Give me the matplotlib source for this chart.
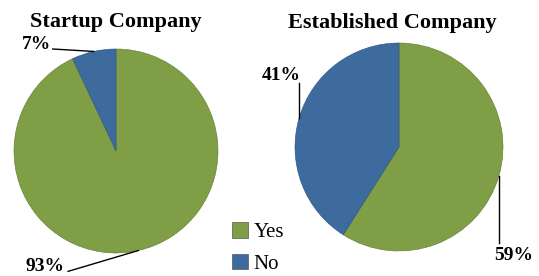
import matplotlib
matplotlib.use("Agg")
import matplotlib.pyplot as plt
import numpy as np
from matplotlib.patches import Patch

# 데이터
categories = ["Yes", "No"]
startup_values = [93, 7]
established_values = [59, 41]
titles = ["Startup Company", "Established Company"]

green = "#7F9E45"
blue = "#3D6B9E"
colors = [green, blue]

plt.rcParams["font.family"] = ["Liberation Serif", "DejaVu Serif"]

fig = plt.figure(figsize = (5.39, 2.76), dpi = 100)

# 각 파이 위치 (figure 비율)
ax1 = fig.add_axes([14 / 539, 23 / 276, 204 / 539, 204 / 276])
ax2 = fig.add_axes([295 / 539, 25 / 276, 208 / 539, 208 / 276])

def draw_pie(ax, values) :
    wedges, _ = ax.pie(values, colors = colors, startangle = 90, counterclock = False,
                       wedgeprops = dict(edgecolor = "#5a7a30", linewidth = 0.4))
    wedges[1].set_edgecolor("#2c5080")
    ax.set_xlim(-1, 1)
    ax.set_ylim(-1, 1)
    ax.set_aspect("equal")
    ax.axis("off")
    return wedges

def edge_point(w) :
    ang = np.deg2rad((w.theta1 + w.theta2) / 2)
    return np.cos(ang), np.sin(ang)

w1 = draw_pie(ax1, startup_values)
w2 = draw_pie(ax2, established_values)

fig.text(116 / 539, 1 - 27 / 276, titles[0], ha = "center", va = "baseline", fontsize = 16, fontweight = "bold")
fig.text(392 / 539, 1 - 28 / 276, titles[1], ha = "center", va = "baseline", fontsize = 16, fontweight = "bold")

lab = dict(fontsize = 14, fontweight = "bold", clip_on = False)

# Startup 라벨
ex, ey = edge_point(w1[1])
ax1.text(-0.64, 1.0, f"{startup_values[1]}%", ha = "right", va = "baseline", **lab)
ax1.plot([-0.62, ex], [1.0, ey], color = "black", lw = 1, clip_on = False)
ex, ey = edge_point(w1[0])
ax1.text(-0.5, -1.18, f"{startup_values[0]}%", ha = "right", va = "baseline", **lab)
ax1.plot([-0.47, ex], [-1.18, ey], color = "black", lw = 1, clip_on = False)

# Established 라벨
ex, ey = edge_point(w2[1])
ax2.text(-1.13, 0.69, f"{established_values[1]}%", ha = "center", va = "center", **lab)
ax2.plot([ex, ex], [0.62, ey], color = "black", lw = 1, clip_on = False)
ex, ey = edge_point(w2[0])
ax2.text(1.1, -1.04, f"{established_values[0]}%", ha = "center", va = "center", **lab)
ax2.plot([ex, ex], [-0.92, ey], color = "black", lw = 1, clip_on = False)

# 범례
handles = [Patch(facecolor = c, edgecolor = "#555555", linewidth = 0.5) for c in colors]
fig.legend(handles, categories, loc = "upper left", bbox_to_anchor = (222 / 539, 1 - 212 / 276),
           frameon = False, fontsize = 15, handlelength = 0.75, handleheight = 0.75,
           handletextpad = 0.25, labelspacing = 0.55, borderpad = 0)

fig.savefig("out.png", dpi = 100)
